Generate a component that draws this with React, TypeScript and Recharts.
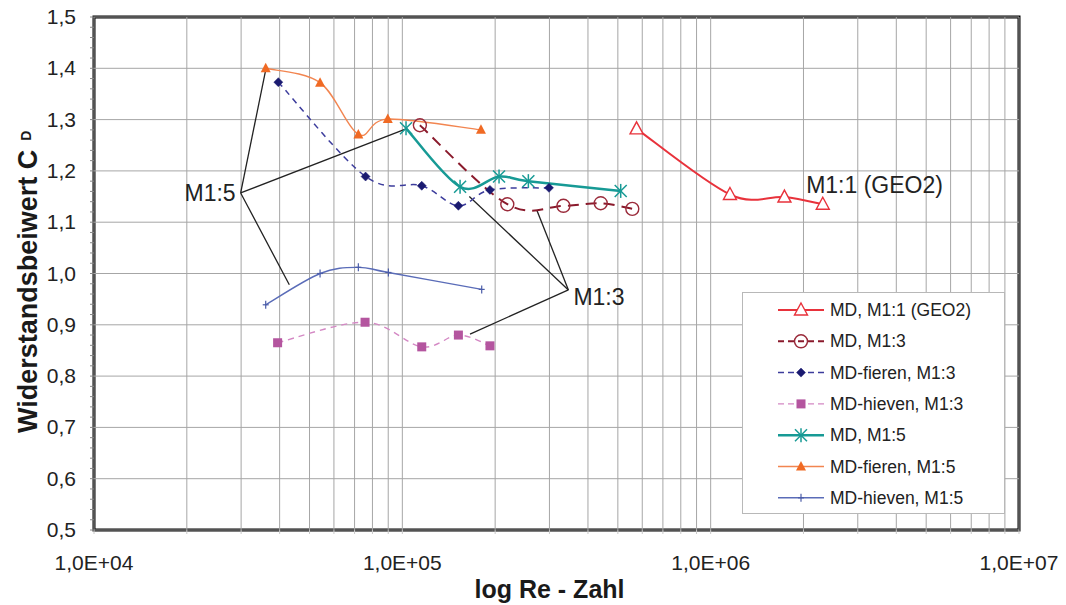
import React from "react";
import {
  LineChart, Line, XAxis, YAxis, ReferenceLine, ReferenceArea, ReferenceDot, Label, Legend,
} from "recharts";

// ---------- data (Re, C_D) ----------
const md11X = [575000, 1155000, 1735000, 2310000];
const md11Y = [1.282, 1.154, 1.149, 1.135];

const md13X = [114000, 219000, 333000, 440000, 557000];
const md13Y = [1.289, 1.135, 1.132, 1.137, 1.126];

const fieren13X = [39600, 76000, 115600, 152000, 192400, 299000];
const fieren13Y = [1.373, 1.189, 1.171, 1.132, 1.163, 1.167];

const hieven13X = [39400, 75700, 115600, 152000, 192400];
const hieven13Y = [0.865, 0.905, 0.857, 0.88, 0.859];

const md15X = [102800, 153900, 205900, 256300, 510800];
const md15Y = [1.283, 1.169, 1.189, 1.18, 1.161];

const fieren15X = [36050, 54100, 72000, 89700, 179900];
const fieren15Y = [1.4, 1.372, 1.271, 1.301, 1.28];

const hieven15X = [36050, 54100, 72000, 90100, 180900];
const hieven15Y = [0.939, 1.0, 1.012, 1.002, 0.969];

// ---------- axes ----------
const xMajorTicks = [1e4, 1e5, 1e6, 1e7];
const xTickLabels = ["1,0E+04", "1,0E+05", "1,0E+06", "1,0E+07"];
const xMinorGrid = [
  2e4, 3e4, 4e4, 5e4, 6e4, 7e4, 8e4, 9e4,
  2e5, 3e5, 4e5, 5e5, 6e5, 7e5, 8e5, 9e5,
  2e6, 3e6, 4e6, 5e6, 6e6, 7e6, 8e6, 9e6,
];
const yMajorTicks = [0.5, 0.6, 0.7, 0.8, 0.9, 1.0, 1.1, 1.2, 1.3, 1.4, 1.5];
const yTickLabels = ["0,5", "0,6", "0,7", "0,8", "0,9", "1,0", "1,1", "1,2", "1,3", "1,4", "1,5"];
const yMinorTicks = [
  0.52, 0.54, 0.56, 0.58, 0.62, 0.64, 0.66, 0.68, 0.72, 0.74, 0.76, 0.78,
  0.82, 0.84, 0.86, 0.88, 0.92, 0.94, 0.96, 0.98, 1.02, 1.04, 1.06, 1.08,
  1.12, 1.14, 1.16, 1.18, 1.22, 1.24, 1.26, 1.28, 1.32, 1.34, 1.36, 1.38,
  1.42, 1.44, 1.46, 1.48,
];

// ---------- annotations ----------
const m15Hub = { x: 29900, y: 1.157 };
const m15Targets = [
  { x: 36050, y: 1.397 },
  { x: 102800, y: 1.282 },
  { x: 43000, y: 0.978 },
];
const m13Hub = { x: 345600, y: 0.968 };
const m13Targets = [
  { x: 164900, y: 1.15 },
  { x: 272900, y: 1.124 },
  { x: 165800, y: 0.882 },
];
const geoLabelPos = { x: 2040000, y: 1.172 };

const rows = (xs: number[], ys: number[]) => xs.map((x, i) => ({ x, y: ys[i] }));

type MarkerKind = "triOpen" | "circleOpen" | "diamond" | "square" | "star" | "triFilled" | "plus";

const series = [
  { name: "MD, M1:1 (GEO2)", data: rows(md11X, md11Y), color: "#e8323b", mcolor: "#e8323b", dash: "", width: 2, marker: "triOpen" as MarkerKind },
  { name: "MD, M1:3", data: rows(md13X, md13Y), color: "#8a1a2c", mcolor: "#9a2a3a", dash: "11 7", width: 2, marker: "circleOpen" as MarkerKind },
  { name: "MD-fieren, M1:3", data: rows(fieren13X, fieren13Y), color: "#3c3c9c", mcolor: "#1a1a70", dash: "6 5", width: 1.5, marker: "diamond" as MarkerKind },
  { name: "MD-hieven, M1:3", data: rows(hieven13X, hieven13Y), color: "#d488c4", mcolor: "#b4559f", dash: "6 5", width: 1.4, marker: "square" as MarkerKind },
  { name: "MD, M1:5", data: rows(md15X, md15Y), color: "#179a95", mcolor: "#179a95", dash: "", width: 2.5, marker: "star" as MarkerKind },
  { name: "MD-fieren, M1:5", data: rows(fieren15X, fieren15Y), color: "#f28550", mcolor: "#f06a24", dash: "", width: 1.4, marker: "triFilled" as MarkerKind },
  { name: "MD-hieven, M1:5", data: rows(hieven15X, hieven15Y), color: "#5a6cb8", mcolor: "#4a5ca8", dash: "", width: 1.4, marker: "plus" as MarkerKind },
];

// Excel-like smoothed line (Catmull-Rom through the points)
const smoothCurve: any = (context: any) => {
  let xs: number[] = [];
  let ys: number[] = [];
  return {
    areaStart() {},
    areaEnd() {},
    lineStart() { xs = []; ys = []; },
    point(x: number, y: number) { xs.push(+x); ys.push(+y); },
    lineEnd() {
      const n = xs.length;
      if (!n) return;
      context.moveTo(xs[0], ys[0]);
      for (let i = 0; i < n - 1; i++) {
        const i0 = Math.max(0, i - 1);
        const i3 = Math.min(n - 1, i + 2);
        const c1x = xs[i] + (xs[i + 1] - xs[i0]) / 6;
        const c1y = ys[i] + (ys[i + 1] - ys[i0]) / 6;
        const c2x = xs[i + 1] - (xs[i3] - xs[i]) / 6;
        const c2y = ys[i + 1] - (ys[i3] - ys[i]) / 6;
        context.bezierCurveTo(c1x, c1y, c2x, c2y, xs[i + 1], ys[i + 1]);
      }
    },
  };
};

function Marker({ kind, cx, cy, color }: { kind: MarkerKind; cx: number; cy: number; color: string }) {
  switch (kind) {
    case "triOpen":
      return <polygon points={`${cx},${cy - 7} ${cx + 6.5},${cy + 5} ${cx - 6.5},${cy + 5}`} fill="#fff" stroke={color} strokeWidth={1.4} />;
    case "circleOpen":
      return <circle cx={cx} cy={cy} r={6.5} fill="none" stroke={color} strokeWidth={1.4} />;
    case "diamond":
      return <polygon points={`${cx},${cy - 4.5} ${cx + 4.5},${cy} ${cx},${cy + 4.5} ${cx - 4.5},${cy}`} fill={color} stroke={color} strokeWidth={0.5} />;
    case "square":
      return <rect x={cx - 4.5} y={cy - 4.5} width={9} height={9} fill={color} />;
    case "star":
      return (
        <g stroke={color} strokeWidth={1.5}>
          <line x1={cx} y1={cy - 7} x2={cx} y2={cy + 7} />
          <line x1={cx - 6} y1={cy - 6} x2={cx + 6} y2={cy + 6} />
          <line x1={cx - 6} y1={cy + 6} x2={cx + 6} y2={cy - 6} />
        </g>
      );
    case "triFilled":
      return <polygon points={`${cx},${cy - 5.5} ${cx + 5},${cy + 4} ${cx - 5},${cy + 4}`} fill={color} />;
    case "plus":
      return (
        <g stroke={color} strokeWidth={1.2}>
          <line x1={cx} y1={cy - 4} x2={cx} y2={cy + 4} />
          <line x1={cx - 3} y1={cy} x2={cx + 3} y2={cy} />
        </g>
      );
  }
  return null;
}

const XTick = (props: any) => {
  const { x, y, payload } = props;
  const idx = xMajorTicks.indexOf(payload.value);
  if (idx < 0) return <g />;
  return (
    <text x={x} y={y + 34} textAnchor="middle" fontSize={21} fill="#222">
      {xTickLabels[idx]}
    </text>
  );
};

const YTick = (props: any) => {
  const { x, y, payload } = props;
  const idx = yMajorTicks.findIndex((v) => Math.abs(v - payload.value) < 1e-9);
  if (idx < 0) return <g />;
  return (
    <text x={x} y={y + 7} textAnchor="end" fontSize={21} fill="#222">
      {yTickLabels[idx]}
    </text>
  );
};

const YTitle = (props: any) => {
  const vb = props.viewBox || { x: 0, y: 17, width: 94, height: 513 };
  const x = vb.x + 37;
  const y = vb.y + vb.height - 97;
  return (
    <text x={x} y={y} transform={`rotate(-90, ${x}, ${y})`} fontSize={27} fontWeight="bold" fill="#1a1a1a" textAnchor="start">
      Widerstandsbeiwert C
      <tspan fontSize={14} dx={9} dy={-6}>D</tspan>
    </text>
  );
};

const XTitle = (props: any) => {
  const vb = props.viewBox || { x: 94, y: 530, width: 925, height: 75 };
  return (
    <text x={vb.x + vb.width / 2 - 7} y={vb.y + 68} textAnchor="middle" fontSize={25} fontWeight="bold" fill="#1a1a1a">
      log Re - Zahl
    </text>
  );
};

const annotText = (text: string, anchor: "start" | "end", dx: number, dy: number) => (props: any) => {
  const vb = props.viewBox || { x: 0, y: 0 };
  return (
    <text x={vb.x + dx} y={vb.y + dy} textAnchor={anchor} fontSize={23} fill="#222">
      {text}
    </text>
  );
};

const LegendBox = () => (
  <div style={{ width: 263, height: 222, boxSizing: "border-box", border: "1px solid #b8b8b8", background: "#fff" }}>
    <svg width={261} height={220} style={{ display: "block" }}>
      {series.map((s, i) => {
        const cy = 17 + i * 31.3;
        return (
          <g key={s.name}>
            <line x1={35} x2={81} y1={cy} y2={cy} stroke={s.color} strokeWidth={s.width} strokeDasharray={s.dash ? "6 4" : undefined} />
            <Marker kind={s.marker} cx={58} cy={cy} color={s.mcolor} />
            <text x={87} y={cy + 6} fontSize={17.5} fill="#222">{s.name}</text>
          </g>
        );
      })}
    </svg>
  </div>
);

export default function App() {
  return (
    <div style={{ position: "absolute", left: 0, top: 0, width: 1066, height: 605, background: "#fff", fontFamily: "'Liberation Sans', Arial, sans-serif" }}>
      <LineChart width={1066} height={605} margin={{ top: 17, right: 47, bottom: 0, left: 0 }}>
        <XAxis
          dataKey="x"
          type="number"
          scale="log"
          domain={[1e4, 1e7]}
          allowDataOverflow
          ticks={[...xMajorTicks, ...xMinorGrid]}
          interval={0}
          height={75}
          axisLine={false}
          tickLine={{ stroke: "#c8c8c8" }}
          tickSize={4}
          tick={<XTick />}
        >
          <Label content={<XTitle />} />
        </XAxis>
        <YAxis
          dataKey="y"
          type="number"
          domain={[0.5, 1.5]}
          allowDataOverflow
          ticks={[...yMajorTicks, ...yMinorTicks]}
          interval={0}
          width={94}
          axisLine={false}
          tickLine={{ stroke: "#888" }}
          tickSize={4}
          tickMargin={14}
          tick={<YTick />}
        >
          <Label content={<YTitle />} />
        </YAxis>

        {xMinorGrid.map((v) => (
          <ReferenceLine key={`vx${v}`} x={v} stroke="#a6a6a6" strokeWidth={1} />
        ))}
        {xMajorTicks.map((v) => (
          <ReferenceLine key={`vX${v}`} x={v} stroke="#a6a6a6" strokeWidth={1} />
        ))}
        {yMajorTicks.map((v) => (
          <ReferenceLine key={`hy${v}`} y={v} stroke="#a6a6a6" strokeWidth={1} />
        ))}

        {m15Targets.map((t, i) => (
          <ReferenceLine key={`a5${i}`} segment={[m15Hub, t]} stroke="#222" strokeWidth={1.3} ifOverflow="visible" />
        ))}
        {m13Targets.map((t, i) => (
          <ReferenceLine key={`a3${i}`} segment={[m13Hub, t]} stroke="#222" strokeWidth={1.3} ifOverflow="visible" />
        ))}

        {series.map((s) => (
          <Line
            key={s.name}
            data={s.data}
            dataKey="y"
            name={s.name}
            type={smoothCurve}
            stroke={s.color}
            strokeWidth={s.width}
            strokeDasharray={s.dash || undefined}
            isAnimationActive={false}
            legendType="none"
            dot={(p: any) => <Marker key={`${s.name}-${p.index}`} kind={s.marker} cx={p.cx} cy={p.cy} color={s.mcolor} />}
            activeDot={false}
          />
        ))}

        <ReferenceDot x={m15Hub.x} y={m15Hub.y} r={0} fill="none" stroke="none" ifOverflow="visible">
          <Label content={annotText("M1:5", "end", -5, 8)} />
        </ReferenceDot>
        <ReferenceDot x={m13Hub.x} y={m13Hub.y} r={0} fill="none" stroke="none" ifOverflow="visible">
          <Label content={annotText("M1:3", "start", 5, 15)} />
        </ReferenceDot>
        <ReferenceDot x={geoLabelPos.x} y={geoLabelPos.y} r={0} fill="none" stroke="none" ifOverflow="visible">
          <Label content={annotText("M1:1 (GEO2)", "start", 0, 8)} />
        </ReferenceDot>

        <ReferenceArea x1={1e4} x2={1e7} y1={0.5} y2={1.5} fill="none" fillOpacity={0} stroke="#000" strokeWidth={3} ifOverflow="visible" />

        <Legend
          layout="vertical"
          align="center"
          verticalAlign="middle"
          content={<LegendBox />}
          wrapperStyle={{ position: "absolute", left: 742, top: 292, width: 263, height: 222, margin: 0, padding: 0 }}
        />
      </LineChart>
    </div>
  );
}
